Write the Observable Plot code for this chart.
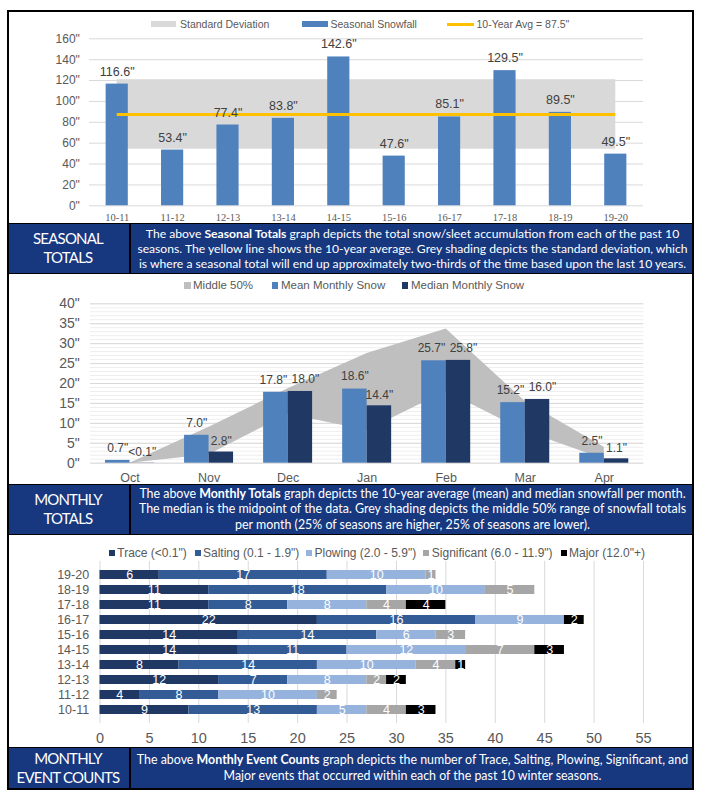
<!DOCTYPE html>
<html>
<head>
<meta charset="utf-8">
<script src="https://cdn.jsdelivr.net/npm/d3@7"></script>
<script src="https://cdn.jsdelivr.net/npm/@observablehq/plot@0.6"></script>
<style>
html, body { margin:0; padding:0; background:#fff; overflow:hidden; }
#page { position:relative; width:705px; height:801px; font-family:"Liberation Sans", Arial, sans-serif; }
.frame { position:absolute; left:7px; top:9.5px; width:687px; height:780px; border:2.5px solid #000; box-sizing:border-box; z-index:20; pointer-events:none; }
.chart { position:absolute; left:0; width:705px; }
.chart svg { display:block; }
.banner { position:absolute; left:7px; width:687px; background:#17377f; box-sizing:border-box; border-top:1.5px solid #000; border-bottom:1px solid #000; color:#fff; z-index:5; }
.bl { position:absolute; left:0; top:0; bottom:0; width:122px; border-right:2px solid #000; display:flex; flex-direction:column; align-items:center; justify-content:center; font-family:Lato, sans-serif; font-size:15px; letter-spacing:-0.8px; line-height:19px; }
.br { position:absolute; left:124px; right:0; top:0; bottom:0; display:flex; flex-direction:column; align-items:center; justify-content:center; font-family:Lato, sans-serif; font-size:12.5px; }
.br > div { white-space:nowrap; text-align:center; }
.br b { font-weight:700; }
.leg { position:absolute; white-space:nowrap; color:#595959; z-index:6; }
.sw { position:absolute; z-index:6; }
</style>
</head>
<body>
<div id="page">
  <div class="frame"></div>

  <div class="banner" style="top:222.7px;height:51px;">
    <div class="bl"><div>SEASONAL</div><div>TOTALS</div></div>
    <div class="br" data-w="551" style="line-height:15px;">
      <div><span class="l">The above <b>Seasonal Totals</b> graph depicts the total snow/sleet accumulation from each of the past 10</span></div>
      <div><span class="l">seasons. The yellow line shows the 10-year average. Grey shading depicts the standard deviation, which</span></div>
      <div><span class="l">is where a seasonal total will end up approximately two-thirds of the time based upon the last 10 years.</span></div>
    </div>
  </div>

  <div class="banner" style="top:483.5px;height:51.5px;">
    <div class="bl" style="line-height:19.7px;"><div>MONTHLY</div><div>TOTALS</div></div>
    <div class="br" data-w="548" style="line-height:15.8px;">
      <div><span class="l">The above <b>Monthly Totals</b> graph depicts the 10-year average (mean) and median snowfall per month.</span></div>
      <div><span class="l">The median is the midpoint of the data. Grey shading depicts the middle 50% range of snowfall totals</span></div>
      <div><span class="l">per month (25% of seasons are higher, 25% of seasons are lower).</span></div>
    </div>
  </div>

  <div class="banner" style="top:746.8px;height:42px;border-bottom:none;">
    <div class="bl"><div>MONTHLY</div><div>EVENT COUNTS</div></div>
    <div class="br" data-w="552" style="line-height:16px;">
      <div><span class="l">The above <b>Monthly Event Counts</b> graph depicts the number of Trace, Salting, Plowing, Significant, and</span></div>
      <div><span class="l">Major events that occurred within each of the past 10 winter seasons.</span></div>
    </div>
  </div>
</div>

<script>
// ---------------- DATA ----------------
// Chart 1: Seasonal totals
const seasons = ["10-11","11-12","12-13","13-14","14-15","15-16","16-17","17-18","18-19","19-20"];
const seasonalSnow = [116.6, 53.4, 77.4, 83.8, 142.6, 47.6, 85.1, 129.5, 89.5, 49.5];
const tenYearAvg = 87.5;
const stdDevLow = 54.2;
const stdDevHigh = 120.8;
const seasonalTicks = [0, 20, 40, 60, 80, 100, 120, 140, 160];
const seasonalLegend = ["Standard Deviation", "Seasonal Snowfall", "10-Year Avg = 87.5\""];

// Chart 2: Monthly totals
const months = ["Oct","Nov","Dec","Jan","Feb","Mar","Apr"];
const meanMonthly = [0.7, 7.0, 17.8, 18.6, 25.7, 15.2, 2.5];
const medianMonthly = [0.05, 2.8, 18.0, 14.4, 25.8, 16.0, 1.1];
const middle50Low = [0, 2.1, 12.3, 8.2, 18.0, 8.0, 1.0];
const middle50High = [0, 9.0, 18.7, 27.5, 33.7, 15.5, 4.0];
const monthlyTicks = [0, 5, 10, 15, 20, 25, 30, 35, 40];
const monthlyMinorTicks = d3.range(0, 41, 1);
const monthlyLegend = ["Middle 50%", "Mean Monthly Snow", "Median Monthly Snow"];

// Chart 3: Event counts
const eventSeasons = ["19-20","18-19","17-18","16-17","15-16","14-15","13-14","12-13","11-12","10-11"];
const eventCategories = ["Trace (<0.1\")", "Salting (0.1 - 1.9\")", "Plowing (2.0 - 5.9\")", "Significant (6.0 - 11.9\")", "Major (12.0\"+)"];
const traceCounts       = [6, 11, 11, 22, 14, 14, 8, 12, 4, 9];
const saltingCounts     = [17, 18, 8, 16, 14, 11, 14, 7, 8, 13];
const plowingCounts     = [10, 10, 8, 9, 6, 12, 10, 8, 10, 5];
const significantCounts = [1, 5, 4, 0, 3, 7, 4, 2, 2, 4];
const majorCounts       = [0, 0, 4, 2, 0, 3, 1, 2, 0, 3];
const eventTicks = [0, 5, 10, 15, 20, 25, 30, 35, 40, 45, 50, 55];

// ---------------- STYLE ----------------
const FONT = '"Liberation Sans", Arial, sans-serif';
const C_BAR = "#4f81bd", C_STD = "#d9d9d9", C_AVG = "#ffc000";
const C_MEAN = "#4f81bd", C_MEDIAN = "#1f3864", C_MID = "#bfbfbf";
const eventColors = ["#1f3864", "#335c96", "#95b3dc", "#a6a6a6", "#000000"];
const AXIS = "#595959", LABEL = "#404040", GRID = "#d9d9d9";

const page = document.getElementById("page");
function place(svg, top) {
  const d = document.createElement("div");
  d.className = "chart";
  d.style.top = top + "px";
  d.appendChild(svg);
  page.appendChild(d);
}
function legend(items, yc, fs) {
  items.forEach(it => {
    const s = document.createElement("div");
    s.className = "sw";
    Object.assign(s.style, {left: it.sx + "px", top: (yc - it.sh / 2) + "px", width: it.sw + "px", height: it.sh + "px", background: it.color});
    page.appendChild(s);
    const t = document.createElement("div");
    t.className = "leg";
    Object.assign(t.style, {left: it.tx + "px", top: (yc - fs * 0.6) + "px", fontSize: fs + "px", lineHeight: (fs * 1.2) + "px"});
    t.textContent = it.label;
    page.appendChild(t);
  });
}

// ---------------- CHART 1 ----------------
const rows1 = seasons.map((s, i) => ({i, season: s, v: seasonalSnow[i]}));
const HALF1 = 0.2;
const chart1 = Plot.plot({
  width: 705, height: 212.7,
  marginLeft: 89, marginRight: 62, marginTop: 26.3, marginBottom: 19.4,
  style: {background: "transparent", fontFamily: FONT, overflow: "visible"},
  x: {domain: [-0.5, seasons.length - 0.5]},
  y: {domain: [0, 160]},
  marks: [
    Plot.gridY(seasonalTicks, {stroke: GRID, strokeOpacity: 1}),
    Plot.rect([{lo: stdDevLow, hi: stdDevHigh}], {x1: 0, x2: seasons.length - 1, y1: "lo", y2: "hi", fill: C_STD}),
    Plot.rect(rows1, {x1: d => d.i - HALF1, x2: d => d.i + HALF1, y1: 0, y2: "v", fill: C_BAR}),
    Plot.ruleY([tenYearAvg], {x1: 0, x2: seasons.length - 1, stroke: C_AVG, strokeWidth: 3}),
    Plot.text(rows1, {x: "i", y: "v", text: d => d.v.toFixed(1) + '"', dy: -12.5, fontSize: 12.5, fill: LABEL}),
    Plot.axisY(seasonalTicks, {label: null, tickSize: 0, tickPadding: 9.7, tickFormat: d => d + '"', fontSize: 12, color: AXIS}),
    Plot.axisX(rows1.map(d => d.i), {label: null, tickSize: 0, tickPadding: 7.5, tickFormat: i => seasons[i], fontSize: 10.5, fontFamily: '"Liberation Serif", serif', color: AXIS})
  ]
});
place(chart1, 12);
legend([
  {sx: 151, sw: 25, sh: 6, color: C_STD, tx: 180, label: seasonalLegend[0]},
  {sx: 301.5, sw: 26, sh: 6, color: C_BAR, tx: 330.5, label: seasonalLegend[1]},
  {sx: 447, sw: 27, sh: 3, color: C_AVG, tx: 476.5, label: seasonalLegend[2]}
], 24.3, 10.5);

// ---------------- CHART 2 ----------------
const rows2 = months.map((m, i) => ({i, month: m, mean: meanMonthly[i], median: medianMonthly[i], lo: middle50Low[i], hi: middle50High[i]}));
const HALF2 = 0.31;
const fmt2 = v => v < 0.1 ? '<0.1"' : v.toFixed(1) + '"';
// labels of the two bars of a month collide when their heights are close: nudge them apart
const close = d => Math.abs(d.mean - d.median) < 2 && d.mean > 5;
const chart2 = Plot.plot({
  width: 705, height: 212,
  marginLeft: 90, marginRight: 61.7, marginTop: 30.3, marginBottom: 22.3,
  style: {background: "transparent", fontFamily: FONT, overflow: "visible"},
  x: {domain: [-0.5, months.length - 0.5]},
  y: {domain: [0, 40]},
  marks: [
    Plot.gridY(monthlyMinorTicks, {stroke: "#eeeeee", strokeOpacity: 1}),
    Plot.gridY(monthlyTicks, {stroke: GRID, strokeOpacity: 1}),
    Plot.area(rows2, {x1: "i", y1: "lo", y2: "hi", fill: C_MID}),
    Plot.rect(rows2, {x1: d => d.i - HALF2, x2: "i", y1: 0, y2: "mean", fill: C_MEAN}),
    Plot.rect(rows2, {x1: "i", x2: d => d.i + HALF2, y1: 0, y2: "median", fill: C_MEDIAN}),
    Plot.text(rows2.filter(d => !close(d)), {x: d => d.i - HALF2 / 2, y: "mean", text: d => fmt2(d.mean), dy: -12.5, fontSize: 12, fill: LABEL}),
    Plot.text(rows2.filter(close), {x: d => d.i - HALF2 / 2, y: "mean", text: d => fmt2(d.mean), dy: -12.5, dx: -2.5, fontSize: 12, fill: LABEL}),
    Plot.text(rows2.filter(d => !close(d)), {x: d => d.i + HALF2 / 2, y: "median", text: d => fmt2(d.median), dy: -11, fontSize: 12, fill: LABEL}),
    Plot.text(rows2.filter(close), {x: d => d.i + HALF2 / 2, y: "median", text: d => fmt2(d.median), dy: -12.5, dx: 5, fontSize: 12, fill: LABEL}),
    Plot.axisY(monthlyTicks, {label: null, tickSize: 0, tickPadding: 10.7, tickFormat: d => d + '"', fontSize: 14, color: AXIS}),
    Plot.axisX(rows2.map(d => d.i), {label: null, tickSize: 0, tickPadding: 10, tickFormat: i => months[i], fontSize: 12.5, color: AXIS})
  ]
});
place(chart2, 273);
legend([
  {sx: 184.3, sw: 6.5, sh: 6.5, color: C_MID, tx: 193, label: monthlyLegend[0]},
  {sx: 271.7, sw: 6.5, sh: 6.5, color: C_MEAN, tx: 281, label: monthlyLegend[1]},
  {sx: 401.7, sw: 6.5, sh: 6.5, color: C_MEDIAN, tx: 411, label: monthlyLegend[2]}
], 285.7, 11.5);

// ---------------- CHART 3 ----------------
const countSeries = [traceCounts, saltingCounts, plowingCounts, significantCounts, majorCounts];
const rows3 = [];
eventSeasons.forEach((s, j) => countSeries.forEach((arr, k) => {
  if (arr[j] > 0) rows3.push({season: s, cat: eventCategories[k], n: arr[j]});
}));
const chart3 = Plot.plot({
  width: 705, height: 214.3,
  marginLeft: 99.5, marginRight: 62, marginTop: 26.8, marginBottom: 25.3,
  style: {background: "transparent", fontFamily: FONT, overflow: "visible"},
  x: {domain: [0, 55]},
  y: {domain: eventSeasons, padding: 0.4},
  color: {domain: eventCategories, range: eventColors},
  marks: [
    Plot.gridX(eventTicks, {stroke: GRID, strokeOpacity: 1}),
    Plot.barX(rows3, Plot.stackX({x: "n", y: "season", fill: "cat", order: eventCategories})),
    Plot.text(rows3, Plot.stackX({x: "n", y: "season", z: "cat", order: eventCategories, text: d => String(d.n), fill: "white", fontSize: 12.5})),
    Plot.axisY({label: null, tickSize: 0, tickPadding: 10.9, fontSize: 12.5, color: AXIS}),
    Plot.axisX(eventTicks, {label: null, tickSize: 0, tickPadding: 9, fontSize: 14.5, color: AXIS})
  ]
});
place(chart3, 534);
legend([
  {sx: 109, sw: 6, sh: 6, color: eventColors[0], tx: 117.3, label: eventCategories[0]},
  {sx: 194.5, sw: 6, sh: 6, color: eventColors[1], tx: 203, label: eventCategories[1]},
  {sx: 306, sw: 6, sh: 6, color: eventColors[2], tx: 314.5, label: eventCategories[2]},
  {sx: 422.7, sw: 6, sh: 6, color: eventColors[3], tx: 431.8, label: eventCategories[3]},
  {sx: 560.5, sw: 6, sh: 6, color: eventColors[4], tx: 569, label: eventCategories[4]}
], 552.7, 12);

// ---------------- fit banner text ----------------
document.querySelectorAll(".br").forEach(br => {
  let maxW = 0;
  br.querySelectorAll(".l").forEach(l => { maxW = Math.max(maxW, l.getBoundingClientRect().width); });
  const target = +br.dataset.w;
  if (maxW > 0) br.style.fontSize = (12.5 * target / maxW) + "px";
});
</script>
</body>
</html>
